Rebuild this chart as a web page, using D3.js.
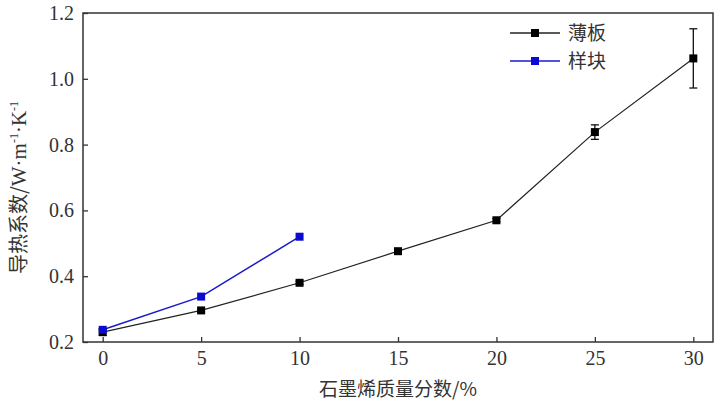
<!DOCTYPE html><html><head><meta charset="utf-8"><script src="https://d3js.org/d3.v7.min.js"></script>
<style>body{margin:0;background:#fff}.serif{font-family:"Liberation Serif","DejaVu Serif",serif}</style></head><body><svg width="724" height="407"></svg><script>
const xCats=[0,5,10,15,20,25,30];
const sheet=[0.230,0.296,0.380,0.476,0.570,0.838,1.062];
const sheetErr=[0.010,0.005,0.005,0.005,0.005,0.022,0.090];
const blockX=[0,5,10];
const block=[0.237,0.338,0.520];
const yTicks=[0.2,0.4,0.6,0.8,1.0,1.2];
const svg=d3.select("svg");
const L=83,R=713,T=13,B=342;
const x=d3.scaleLinear().domain([-1,31]).range([L,R]);
const y=d3.scaleLinear().domain([0.2,1.2]).range([B,T]);
const serif='"Liberation Serif","DejaVu Serif",serif';
svg.append("rect").attr("x",L).attr("y",T).attr("width",R-L).attr("height",B-T).attr("fill","none").attr("stroke","#333").attr("stroke-width",1.5);
const xa=svg.append("g").attr("transform",`translate(0,${B})`).call(d3.axisBottom(x).tickValues(xCats).tickSizeInner(-5).tickSizeOuter(0).tickPadding(9));
const ya=svg.append("g").attr("transform",`translate(${L},0)`).call(d3.axisLeft(y).tickValues(yTicks).tickFormat(d3.format(".1f")).tickSizeInner(-5).tickSizeOuter(0).tickPadding(9));
[xa,ya].forEach(a=>{a.attr("font-family",null).style("font-family",serif);a.select(".domain").remove();a.selectAll("line").attr("stroke","#333").attr("stroke-width",1.3);a.selectAll("text").style("font-family",serif).style("font-size","20px").attr("fill","#333");});
svg.append("text").attr("x",(L+R)/2).attr("y",396).attr("text-anchor","middle").style("font-family","'Noto Sans CJK SC'").style("font-size","19px").attr("fill","#333").text("石墨烯质量分数/%");
const yl=svg.append("text").attr("transform",`translate(26,${(T+B)/2+10}) rotate(-90)`).attr("text-anchor","middle").attr("fill","#333");
yl.append("tspan").style("font-family","'Noto Sans CJK SC'").style("font-size","20px").text("导热系数/");
yl.append("tspan").style("font-family",serif).style("font-size","21px").text("W·m");
yl.append("tspan").style("font-family",serif).style("font-size","12px").attr("dy",-8).text("-1");
yl.append("tspan").style("font-family",serif).style("font-size","21px").attr("dy",8).text("·K");
yl.append("tspan").style("font-family",serif).style("font-size","12px").attr("dy",-8).text("-1");
const line=d3.line().x(d=>x(d[0])).y(d=>y(d[1]));
const sd=xCats.map((c,i)=>[c,sheet[i],sheetErr[i]]);
const bd=blockX.map((c,i)=>[c,block[i]]);
const eg=svg.append("g").attr("stroke","#111").attr("stroke-width",1.3);
sd.forEach(d=>{const x0=x(d[0]),a=y(d[1]+d[2]),b=y(d[1]-d[2]);
eg.append("line").attr("x1",x0).attr("x2",x0).attr("y1",a).attr("y2",b);
eg.append("line").attr("x1",x0-4).attr("x2",x0+4).attr("y1",a).attr("y2",a);
eg.append("line").attr("x1",x0-4).attr("x2",x0+4).attr("y1",b).attr("y2",b);});
svg.append("path").datum(sd).attr("d",line).attr("fill","none").attr("stroke","#222").attr("stroke-width",1.2);
svg.append("path").datum(bd).attr("d",line).attr("fill","none").attr("stroke","#1a1acc").attr("stroke-width",1.5);
svg.selectAll(".ms").data(sd).join("rect").attr("x",d=>x(d[0])-4).attr("y",d=>y(d[1])-4).attr("width",8).attr("height",8).attr("fill","#000");
svg.selectAll(".mb").data(bd).join("rect").attr("x",d=>x(d[0])-4).attr("y",d=>y(d[1])-4).attr("width",8).attr("height",8).attr("fill","#0a0ad0");
const leg=[["薄板","#222","#000"],["样块","#1a1acc","#0a0ad0"]];
leg.forEach((l,i)=>{const yy=33+i*28;
svg.append("line").attr("x1",510).attr("x2",560).attr("y1",yy).attr("y2",yy).attr("stroke",l[1]).attr("stroke-width",1.3);
svg.append("rect").attr("x",531).attr("y",yy-4).attr("width",8).attr("height",8).attr("fill",l[2]);
svg.append("text").attr("x",568).attr("y",yy+7).style("font-family","'Noto Sans CJK SC'").style("font-size","19px").attr("fill","#333").text(l[0]);});
</script></body></html>
